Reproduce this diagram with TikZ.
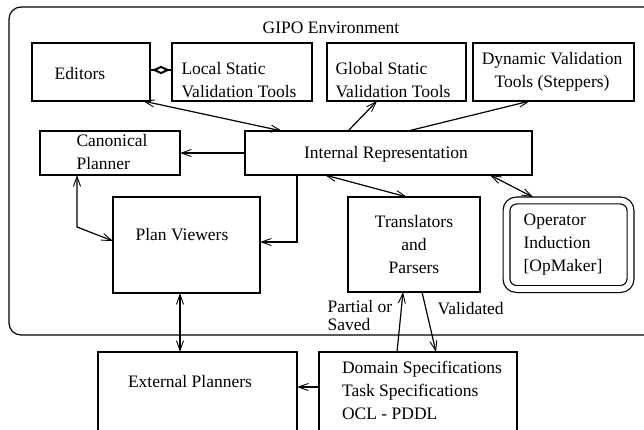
\documentclass[tikz,border=0pt]{standalone}
\usepackage{fontspec}
\setmainfont{Liberation Serif}
\usetikzlibrary{arrows.meta,shapes.geometric}

\begin{document}
\begin{tikzpicture}[x=1pt,y=-1pt,line width=1.2pt,
		>={Straight Barb[length=10pt,width=7pt,line width=0.9pt]},
		font=\fontsize{17.5}{23}\selectfont,
		box/.style={draw,inner sep=0pt,outer sep=0pt},
		txt/.style={inner sep=0pt,align=left}]
	\clip (0,0) rectangle (644,430);

	\draw[rounded corners=12pt] (9,7) rectangle (700,335);
	\node[txt] (gipo) at (331,28) {GIPO Environment};

	\node[box,minimum width=118pt,minimum height=58pt] (ed) at (91,72) {};
	\node[txt] (edt) at (80,74) {Editors};
	\node[box,minimum width=140pt,minimum height=58pt] (lsv) at (242,72) {};
	\node[txt] (lsvt) at (239,80) {Local Static\\Validation Tools};
	\node[box,minimum width=139pt,minimum height=58pt] (gsv) at (396.5,72) {};
	\node[txt] (gsvt) at (393,80) {Global Static\\Validation Tools};
	\node[box,minimum width=161pt,minimum height=58pt] (dvt) at (553.5,72) {};
	\node[txt,align=center] (dvtt) at (552,72) {Dynamic Validation\\Tools (Steppers)};

	\node[box,minimum width=140pt,minimum height=44pt] (cp) at (110,153) {};
	\node[txt] (cpt) at (112,152) {Canonical\\Planner};
	\node[box,minimum width=287pt,minimum height=44pt] (ir) at (388.5,153) {};
	\node[txt] (irt) at (386,154) {Internal Representation};

	\node[box,minimum width=147pt,minimum height=96pt] (pv) at (186.5,245) {};
	\node[txt] (pvt) at (182,235) {Plan Viewers};
	\node[box,minimum width=132pt,minimum height=95pt] (tp) at (414,244.5) {};
	\node[txt,align=center] (tpt) at (414,245) {Translators\\and\\Parsers};
	\node[draw,double,double distance=5.6pt,rounded corners=10pt,outer sep=3.4pt,
		minimum width=124pt,minimum height=88.5pt] (oi) at (568.5,244.75) {};
	\node[txt] (oit) at (563,245) {Operator\\Induction\\{[OpMaker]}};

	\node[box,minimum width=199pt,minimum height=88pt] (ep) at (197.5,396) {};
	\node[txt] (ept) at (190,382) {External Planners};
	\node[box,minimum width=198pt,minimum height=88pt] (ds) at (418,396) {};
	\node[txt] (dst) at (422,390) {Domain Specifications\\Task Specifications\\OCL - PDDL};

	\draw ([yshift=2pt]ed.east) -- ([yshift=2pt]lsv.west)
		node[midway,diamond,draw,fill=white,line width=2pt,inner sep=0pt,minimum width=14pt,minimum height=7pt] (edlink) {};
	\draw[<->] ([xshift=-7pt]ed.south east) -- ([xshift=37pt]ir.north west);
	\draw[->] ([xshift=103pt]ir.north west) -- ([xshift=-19.5pt]gsv.south);
	\draw[->] ([xshift=163pt]ir.north west) -- ([xshift=-23.5pt]dvt.south);
	\draw[->] (ir.west) -- (cp.east);
	\draw[->] ([xshift=52pt]ir.south west) |- ([yshift=3pt]pv.east);
	\draw[<->] ([xshift=-33pt]cp.south) -- ++(0,52) -- ([yshift=4pt]pv.west);
	\draw[<->] ([xshift=80pt]ir.south west) -- ([xshift=-7pt]tp.north);
	\draw[<->] ([xshift=-42pt]ir.south east) -- ([xshift=-35.5pt]oi.north);
	\draw[<->] ([xshift=-6.5pt]pv.south) -- ([xshift=-6.5pt]pv.south |- ep.north);
	\draw[->] ([yshift=9pt]ds.west) -- ([yshift=9pt]ep.east);
	\draw[->] ([xshift=-21pt]ds.north) -- ([xshift=-11pt]tp.south);
	\draw[->] ([xshift=8pt]tp.south) -- ([xshift=18pt]ds.north);

	\node[txt,font=\fontsize{17.5}{18}\selectfont,anchor=west] (partial) at (327,316) {Partial or\\Saved};
	\node[txt,anchor=west] (valid) at (437,309) {Validated};
\end{tikzpicture}
\end{document}
